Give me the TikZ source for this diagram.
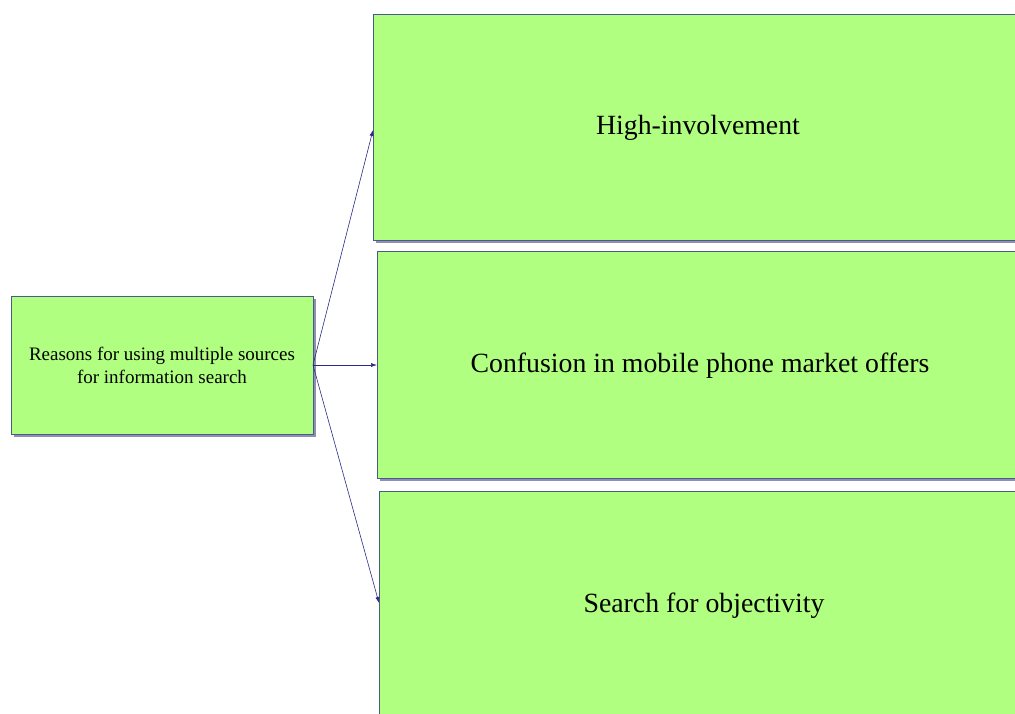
\documentclass[tikz,border=0pt]{standalone}
\usepackage{fontspec}
\setmainfont{Liberation Serif}
\usetikzlibrary{arrows.meta}
\definecolor{boxfill}{HTML}{B0FF80}
\definecolor{boxline}{HTML}{4A5A8A}
\definecolor{shade}{HTML}{6A6A98}
\definecolor{link}{HTML}{2A2A85}
\begin{document}
\begin{tikzpicture}[x=1pt,y=-1pt,
  box/.style={draw=boxline, line width=0.9pt, fill=boxfill, inner sep=0pt,
    outer sep=0pt, anchor=north west, align=center},
  shadowbox/.style={fill=shade, opacity=0.75},
  bigtext/.style={font=\fontsize{27.8}{33}\selectfont},
  link/.style={draw=link, line width=0.6pt, -{Latex[length=6pt,width=4pt]}}]
  \useasboundingbox (0,0) rectangle (1015,713);
  \clip (0,0) rectangle (1015,713);
  % drop shadows under the boxes
  \fill[shadowbox] (13.5,298.5) rectangle (315.5,436.5);
  \fill[shadowbox] (375.5,16.5) rectangle (1035,242.5);
  \fill[shadowbox] (379.5,253.5) rectangle (1035,480.5);
  % source box
  \node[box, minimum width=302pt, minimum height=138pt,
        font=\fontsize{19}{23}\selectfont] (src) at (11,296)
        {Reasons for using multiple sources\\for information search};
  % reason boxes
  \node[box, minimum width=660pt, minimum height=226pt] (b1) at (373,14) {};
  \node[box, minimum width=660pt, minimum height=227pt] (b2) at (377,251) {};
  \node[box, minimum width=660pt, minimum height=240pt] (b3) at (379,491) {};
  \node[bigtext] (t1) at (698,128) {High-involvement};
  \node[bigtext] (t2) at (700,366) {Confusion in mobile phone market offers};
  \node[bigtext] (t3) at (704,606) {Search for objectivity};
  % connectors
  \draw[link] (src.east) -- ([yshift=-116pt]b1.north west);
  \draw[link] (src.east) -- ([yshift=-114pt]b2.north west);
  \draw[link] (src.east) -- ([yshift=-112pt]b3.north west);
\end{tikzpicture}
\end{document}
